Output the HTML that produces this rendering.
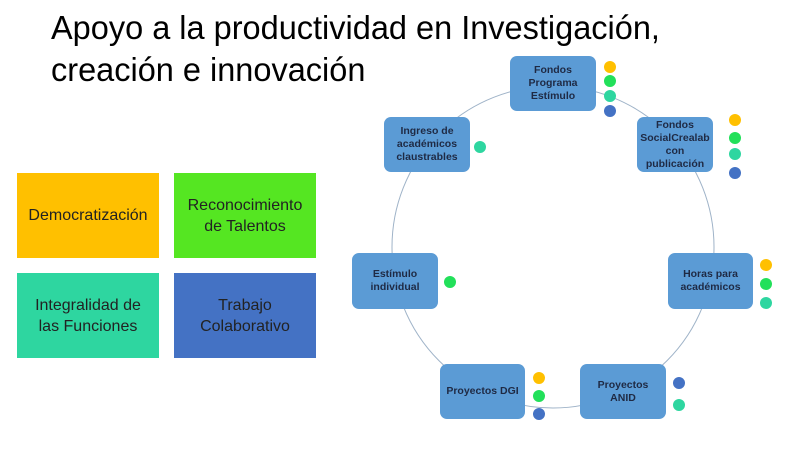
<!DOCTYPE html>
<html><head><meta charset="utf-8"><style>
body{margin:0;width:800px;height:450px;background:#fff;position:relative;overflow:hidden;font-family:"Liberation Sans",sans-serif}
.t{position:absolute;left:51px;font-size:33px;color:#000;white-space:nowrap;transform-origin:0 0;transform:scaleX(0.985)}
.sq{position:absolute;width:142px;height:85px;display:flex;align-items:center;justify-content:center;text-align:center;font-size:16px;line-height:21px;color:#222}
.b{position:absolute;background:#5b9bd5;border-radius:7px;display:flex;align-items:center;justify-content:center;text-align:center;font-size:10.5px;font-weight:bold;line-height:13px;color:#1f2a44}
.d{position:absolute;width:12px;height:12px;border-radius:50%}
.y{background:#ffc000}.g{background:#22e05a}.tq{background:#2ed6a0}.bl{background:#4472c4}
</style></head><body>
<div class="t" style="top:9px">Apoyo a la productividad en Investigación,</div>
<div class="t" style="top:51px">creación e innovación</div>
<div class="sq" style="left:17px;top:173px;background:#ffc000">Democratización</div>
<div class="sq" style="left:174px;top:173px;background:#55e622">Reconocimiento<br>de Talentos</div>
<div class="sq" style="left:17px;top:273px;background:#2ed6a0">Integralidad de<br>las Funciones</div>
<div class="sq" style="left:174px;top:273px;background:#4472c4">Trabajo<br>Colaborativo</div>
<svg style="position:absolute;left:0;top:0" width="800" height="450"><circle cx="553" cy="247" r="161" fill="none" stroke="#9fb3c8" stroke-width="1"/></svg>
<div class="b" style="left:510px;top:56px;width:86px;height:55px">Fondos<br>Programa<br>Estímulo</div>
<div class="b" style="left:637px;top:117px;width:76px;height:55px">Fondos<br>SocialCrealab<br>con<br>publicación</div>
<div class="b" style="left:384px;top:117px;width:86px;height:55px">Ingreso de<br>académicos<br>claustrables</div>
<div class="b" style="left:352px;top:253px;width:86px;height:56px">Estímulo<br>individual</div>
<div class="b" style="left:668px;top:253px;width:85px;height:56px">Horas para<br>académicos</div>
<div class="b" style="left:440px;top:364px;width:85px;height:55px">Proyectos DGI</div>
<div class="b" style="left:580px;top:364px;width:86px;height:55px">Proyectos<br>ANID</div>
<div class="d y" style="left:604px;top:61px"></div><div class="d g" style="left:604px;top:75px"></div><div class="d tq" style="left:604px;top:90px"></div><div class="d bl" style="left:604px;top:105px"></div>
<div class="d y" style="left:729px;top:114px"></div><div class="d g" style="left:729px;top:132px"></div><div class="d tq" style="left:729px;top:148px"></div><div class="d bl" style="left:729px;top:167px"></div>
<div class="d tq" style="left:474px;top:141px"></div>
<div class="d g" style="left:444px;top:276px"></div>
<div class="d y" style="left:760px;top:259px"></div><div class="d g" style="left:760px;top:278px"></div><div class="d tq" style="left:760px;top:297px"></div>
<div class="d y" style="left:533px;top:372px"></div><div class="d g" style="left:533px;top:390px"></div><div class="d bl" style="left:533px;top:408px"></div>
<div class="d bl" style="left:673px;top:377px"></div><div class="d tq" style="left:673px;top:399px"></div>
</body></html>
